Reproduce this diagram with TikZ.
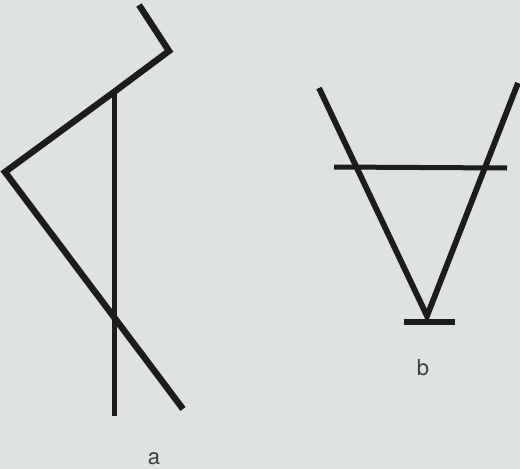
\documentclass[tikz,border=0pt]{standalone}
\usepackage{fontspec}
\setsansfont{TeX Gyre Heros}
\usetikzlibrary{calc}
\definecolor{paper}{RGB}{222,226,225}
\definecolor{ink}{RGB}{28,28,30}
\tikzset{stroke/.style={draw=ink, line width=6.4pt, line cap=butt, line join=miter},
  thinstroke/.style={draw=ink, line width=5pt},
  lbl/.style={font=\sffamily\fontsize{22}{26}\selectfont, text=ink!85, inner sep=0pt}}
\begin{document}
\begin{tikzpicture}[x=1pt, y=-1pt]
  \useasboundingbox (0,0) rectangle (520,469);
  \fill[paper] (0,0) rectangle (520,469);
  % rune a
  \coordinate (atop) at (139,5);
  \coordinate (abend) at (169,51);
  \coordinate (astem) at (114,92);
  \coordinate (aleft) at (5,172);
  \coordinate (afoot) at (183,409);
  \coordinate (abot) at (114,416);
  \draw[thinstroke] (astem) -- (abot);
  \draw[stroke] (atop) -- (abend) -- (astem) -- (aleft) -- (afoot);
  \node[lbl] (la) at (154,459) {a};
  % rune b
  \coordinate (bl) at (319,88);
  \coordinate (br) at (518,83);
  \coordinate (bv) at (427,316);
  \draw[stroke, line width=5.8pt] (bl) -- (bv) -- (br);
  \draw[thinstroke] (334,167) -- (507,168);
  \draw[stroke, line width=6.2pt] (404,322) -- (455,322);
  \node[lbl] (lb) at (423,368) {b};
\end{tikzpicture}
\end{document}
